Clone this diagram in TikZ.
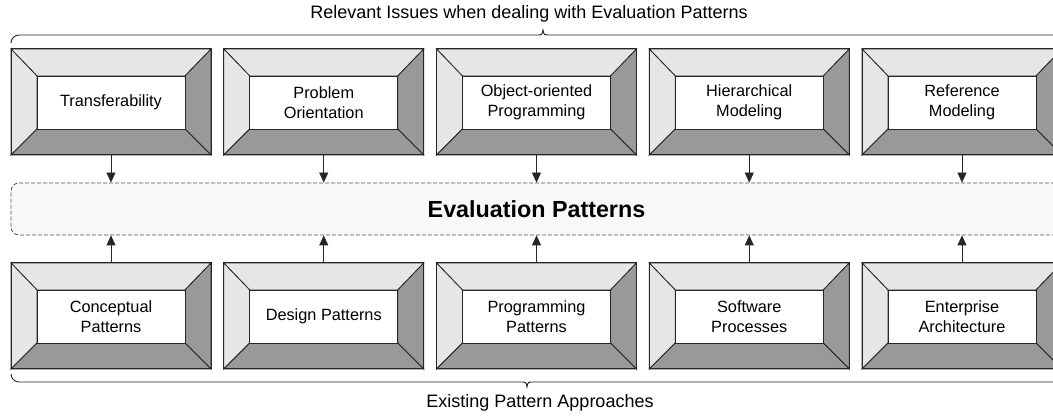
\documentclass[tikz,border=0pt]{standalone}
\usepackage{fontspec}
\setmainfont{Liberation Sans}
\usetikzlibrary{arrows.meta}
\definecolor{lightg}{HTML}{E6E6E6}
\definecolor{darkg}{HTML}{999999}
\definecolor{edgec}{HTML}{262626}
\definecolor{midfill}{HTML}{F8F8F8}
\tikzset{
  bevel/.style={draw=edgec,line width=0.8pt,line join=miter},
  innerbox/.style={draw=edgec,line width=0.8pt,fill=white,minimum width=148pt,minimum height=53pt,
     inner sep=0pt,align=center,font=\fontsize{16.3}{19.5}\selectfont},
  outerbox/.style={minimum width=200pt,minimum height=106pt,inner sep=0pt,draw=edgec,line width=1pt},
  arr/.style={-{Triangle[length=10pt,width=9pt]},line width=0.8pt,draw=edgec},
  midbox/.style={draw=edgec!80,dashed,dash pattern=on 4pt off 2pt,line width=0.8pt,fill=midfill,rounded corners=8pt,
     minimum width=1064pt,minimum height=52pt,inner sep=0pt},
  lbl/.style={font=\fontsize{18}{21}\selectfont,inner sep=0pt},
  bracec/.style={line width=0.9pt,draw=edgec}
}
\newcommand\bevelbox[4]{%
  \begin{scope}[shift={(#2,#3)}]
    \filldraw[bevel,fill=lightg] (0,0)--(200,0)--(174,27)--(26,27)--cycle;
    \filldraw[bevel,fill=lightg] (0,0)--(26,27)--(26,80)--(0,106)--cycle;
    \filldraw[bevel,fill=darkg] (200,0)--(200,106)--(174,80)--(174,27)--cycle;
    \filldraw[bevel,fill=darkg] (0,106)--(26,80)--(174,80)--(200,106)--cycle;
    \node[outerbox] (#1o) at (100,53) {};
    \node[innerbox] (#1) at (100,53.5) {#4};
  \end{scope}}
\begin{document}
\begin{tikzpicture}[x=1pt,y=-1pt]
\useasboundingbox (0,0) rectangle (1053,419);
\clip (0,0) rectangle (1053,419);
% top row
\bevelbox{t1}{11}{49}{Transferability}
\bevelbox{t2}{223.75}{49}{Problem\\Orientation}
\bevelbox{t3}{436.5}{49}{Object-oriented\\Programming}
\bevelbox{t4}{649.25}{49}{Hierarchical\\Modeling}
\bevelbox{t5}{862}{49}{Reference\\Modeling}
% bottom row
\bevelbox{b1}{11}{263}{Conceptual\\Patterns}
\bevelbox{b2}{223.75}{263}{Design Patterns}
\bevelbox{b3}{436.5}{263}{Programming\\Patterns}
\bevelbox{b4}{649.25}{263}{Software\\Processes}
\bevelbox{b5}{862}{263}{Enterprise\\Architecture}
% middle
\node[midbox] (ep) at (543,209) {};
\node[font=\fontsize{23.3}{27}\selectfont\bfseries,inner sep=0pt] (eptext) at (536.5,209) {Evaluation Patterns};
\foreach \i in {1,...,5}{
  \draw[arr] (t\i o.south) -- (t\i o.south |- ep.north);
  \draw[arr] (b\i o.north) -- (b\i o.north |- ep.south);
}
% braces
\draw[bracec] (11,43) arc[start angle=180,end angle=270,radius=8] -- (537,35)
  .. controls (542,35) .. (543,30) .. controls (544,35) .. (549,35)
  -- (1067,35) arc[start angle=270,end angle=360,radius=8];
\draw[bracec] (11,374) arc[start angle=180,end angle=90,radius=8] -- (521,382)
  .. controls (526,382) .. (527,387) .. controls (528,382) .. (533,382)
  -- (1067,382) arc[start angle=90,end angle=0,radius=8];
\node[lbl] (toplbl) at (529,14) {Relevant Issues when dealing with Evaluation Patterns};
\node[lbl] (botlbl) at (540,403) {Existing Pattern Approaches};
\end{tikzpicture}
\end{document}
